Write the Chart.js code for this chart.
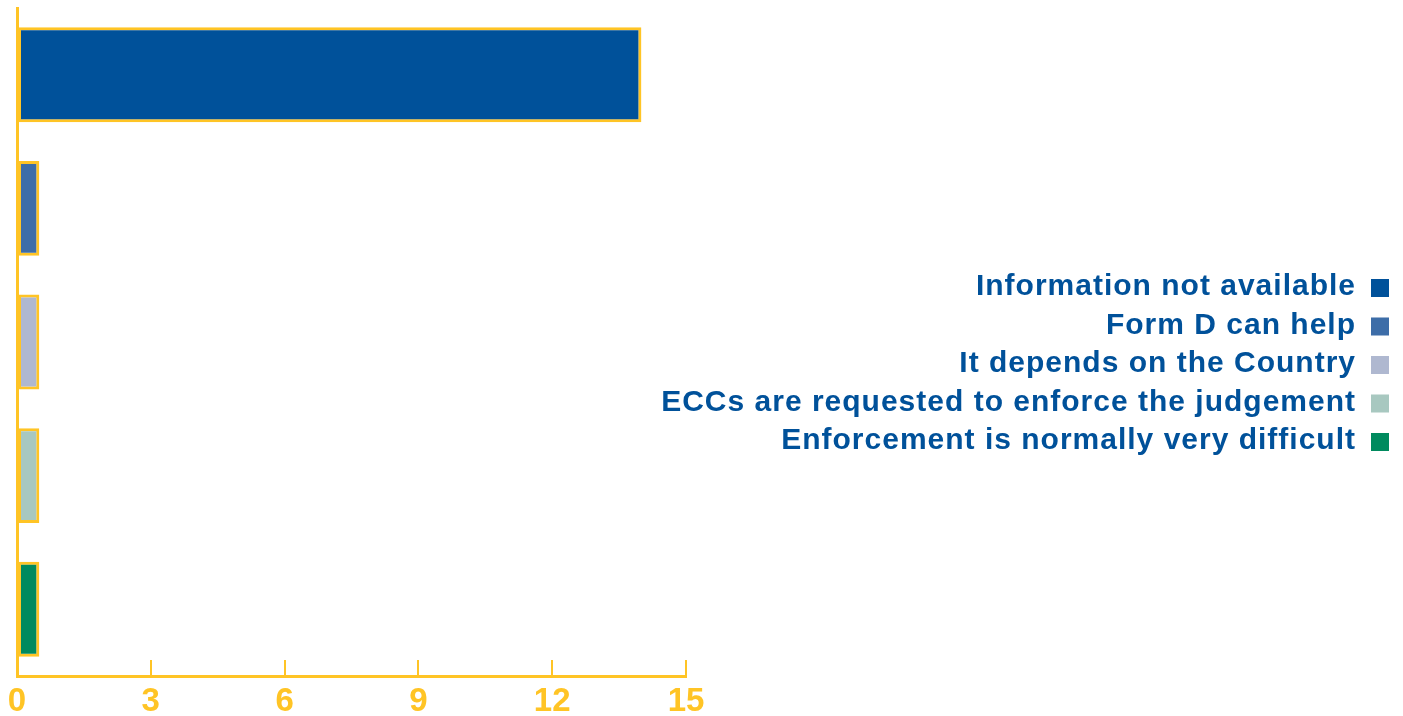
<!DOCTYPE html>
<html><head><meta charset="utf-8">
<script src="https://cdn.jsdelivr.net/npm/chart.js@4"></script>
<style>html,body{margin:0;padding:0;background:#fff;}#wrap{width:1403px;height:716px;position:relative}</style>
</head><body><div id="wrap"><canvas id="c"></canvas></div>
<script>
const categories = ['Information not available','Form D can help','It depends on the Country','ECCs are requested to enforce the judgement','Enforcement is normally very difficult'];
const values = [14, 0.5, 0.5, 0.5, 0.5];
const barColors = ['#00519A','#3D6DA8','#AFB8D0','#A8C8C0','#008A5E'];
const xTicks = [0, 3, 6, 9, 12, 15];
const YELLOW = '#FFC425';
const BLUE_TEXT = '#00519A';
const FONT = '"Liberation Sans", Arial, sans-serif';

const legendPlugin = {
  id: 'customLegend',
  afterDraw(chart) {
    const ctx = chart.ctx;
    ctx.save();
    ctx.font = 'bold 30px ' + FONT;
    ctx.letterSpacing = '1px';
    ctx.textAlign = 'right';
    ctx.textBaseline = 'middle';
    const textRight = 1356, boxLeft = 1371, box = 18, y0 = 287, step = 38.5;
    categories.forEach((c, i) => {
      const y = y0 + i * step;
      ctx.fillStyle = BLUE_TEXT;
      ctx.fillText(c, textRight, y);
      ctx.fillStyle = barColors[i];
      ctx.fillRect(boxLeft, y - box / 2 + 1, box, box);
    });
    ctx.restore();
  }
};

new Chart(document.getElementById('c'), {
  type: 'bar',
  data: {
    labels: categories,
    datasets: [{
      data: values,
      backgroundColor: barColors,
      borderColor: YELLOW,
      borderWidth: 3,
      borderSkipped: false,
      barPercentage: 0.71,
      categoryPercentage: 1
    }]
  },
  options: {
    indexAxis: 'y',
    responsive: true,
    maintainAspectRatio: false,
    animation: false,
    layout: { padding: { left: 17, right: 717, top: 8, bottom: 0 } },
    plugins: { legend: { display: false }, tooltip: { enabled: false } },
    scales: {
      x: {
        min: 0, max: 15,
        afterBuildTicks: (s) => { s.ticks = xTicks.map(v => ({ value: v })); },
        afterFit: (s) => { s.height = 40; s.paddingLeft = 9; s.paddingRight = 16; },
        ticks: { color: YELLOW, font: { family: FONT, weight: 'bold', size: 33 }, padding: 22, maxRotation: 0 },
        grid: { drawOnChartArea: false, drawTicks: true, tickLength: -16, color: YELLOW, lineWidth: 2 },
        border: { color: YELLOW, width: 3 }
      },
      y: {
        afterFit: (s) => { s.width = 0; },
        ticks: { display: false },
        grid: { display: false },
        border: { color: YELLOW, width: 3 }
      }
    }
  },
  plugins: [legendPlugin]
});
</script></body></html>
